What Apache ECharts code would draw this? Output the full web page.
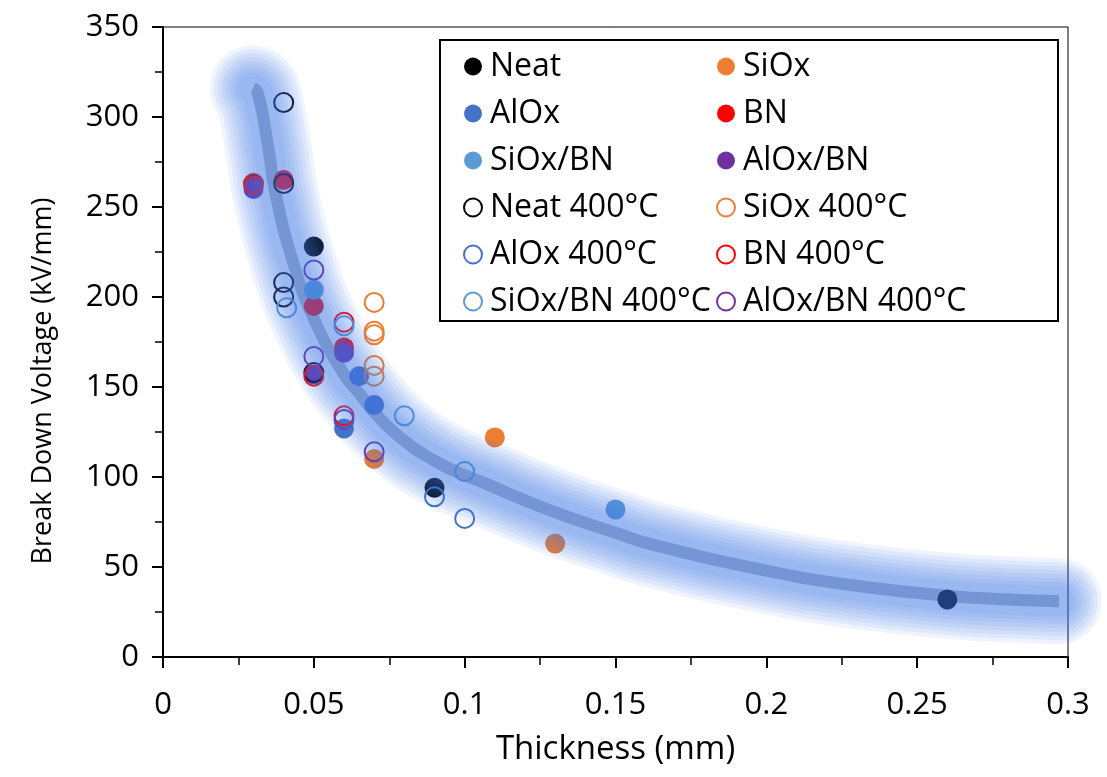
<!DOCTYPE html>
<html><head><meta charset="utf-8">
<script src="https://cdn.jsdelivr.net/npm/echarts@6/dist/echarts.min.js"></script>
<style>html,body{margin:0;padding:0;background:#fff}#c{width:1107px;height:777px}</style>
</head><body><div id="c"></div>
<script>
// ---- data (thickness mm, breakdown kV/mm) ----
const neat      = [[0.03,263],[0.05,228],[0.09,94],[0.26,32]];
const siox      = [[0.07,110],[0.11,122],[0.13,63]];
const alox      = [[0.065,156],[0.06,127],[0.07,140]];
const bn        = [[0.03,262],[0.04,265],[0.05,195],[0.06,172]];
const sioxbn    = [[0.05,204],[0.15,82]];
const aloxbn    = [[0.03,260],[0.06,169],[0.05,157]];
const neat400   = [[0.04,308],[0.04,263],[0.04,208],[0.04,200],[0.05,158]];
const siox400   = [[0.07,197],[0.07,181],[0.07,179],[0.07,162],[0.07,156]];
const alox400   = [[0.09,89],[0.1,77]];
const bn400     = [[0.03,263],[0.05,156],[0.06,186],[0.06,134]];
const sioxbn400 = [[0.041,194],[0.06,184],[0.08,134],[0.1,103]];
const aloxbn400 = [[0.05,215],[0.05,167],[0.06,132],[0.07,114]];
// trendline
const trendX = [0.0298,0.0315,0.035,0.0371,0.043,0.05,0.06,0.0653,0.07,0.0786,0.09,0.1,0.106,0.12,0.134,0.15,0.161,0.2,0.228,0.26,0.28,0.297];
const trendY = [316,313,282,259,220,188,157,146,136,122,109,101,97,87,78,69,63,48,40,34,32,31];
const xTickLabels = ['0','0.05','0.1','0.15','0.2','0.25','0.3'];

const seriesDefs = [
  ['Neat', neat, '#000000', true],
  ['SiOx', siox, '#ED7D31', true],
  ['AlOx', alox, '#4472C4', true],
  ['BN', bn, '#FF0000', true],
  ['SiOx/BN', sioxbn, '#5B9BD5', true],
  ['AlOx/BN', aloxbn, '#7030A0', true],
  ['Neat 400°C', neat400, '#000000', false],
  ['SiOx 400°C', siox400, '#ED7D31', false],
  ['AlOx 400°C', alox400, '#4472C4', false],
  ['BN 400°C', bn400, '#FF0000', false],
  ['SiOx/BN 400°C', sioxbn400, '#5B9BD5', false],
  ['AlOx/BN 400°C', aloxbn400, '#7030A0', false]
];
const FONT = '"Open Sans", "Liberation Sans", sans-serif';

const series = seriesDefs.map(([name, data, color, filled]) => ({
  name, type: 'scatter', data, z: 3,
  symbol: 'circle', symbolSize: filled ? 20 : 19,
  itemStyle: filled ? {color: color, opacity: 1} : {color: 'rgba(255,255,255,0)', borderColor: color, borderWidth: 2, opacity: 1},
  emphasis: {disabled: true}
}));
const trend = trendX.map((x, i) => [x, trendY[i]]);
series.push({
  type: 'line', data: trend, smooth: true, showSymbol: false, z: 2, silent: true, clip: false,
  lineStyle: {width: 12, color: '#b4b8c2', cap: 'butt'}
});
// soft glow: stacked translucent strokes
const glowWidths = [86, 78, 70, 62, 54, 46, 38, 30];
glowWidths.forEach((w) => series.push({
  type: 'line', data: trend, smooth: true, showSymbol: false, z: 4, silent: true, clip: false,
  lineStyle: {width: w, color: 'rgba(63,124,231,0.09)', cap: 'round', join: 'round'}
}));

const leftNames = ['Neat','AlOx','SiOx/BN','Neat 400°C','AlOx 400°C','SiOx/BN 400°C'];
const rightNames = ['SiOx','BN','AlOx/BN','SiOx 400°C','BN 400°C','AlOx/BN 400°C'];
const legendBase = {
  orient: 'vertical', top: 43, itemGap: 10, itemWidth: 24, itemHeight: 18, z: 10,
  icon: 'circle', selectedMode: false,
  textStyle: {fontFamily: FONT, fontSize: 32, color: '#000', lineHeight: 37}
};

const chart = echarts.init(document.getElementById('c'));
chart.setOption({
  animation: false,
  backgroundColor: '#fff',
  grid: {left: 163, right: 39, top: 27, bottom: 120, show: true, borderColor: '#000', borderWidth: 1},
  graphic: [{type: 'rect', z: 9, shape: {x: 440, y: 40, width: 618, height: 281},
    style: {fill: '#fff', stroke: '#000', lineWidth: 2}}],
  legend: [
    Object.assign({}, legendBase, {left: 458, data: leftNames}),
    Object.assign({}, legendBase, {left: 711, data: rightNames})
  ],
  xAxis: {
    type: 'value', min: 0, max: 0.3, interval: 0.05,
    name: 'Thickness (mm)', nameLocation: 'middle', nameGap: 76,
    nameTextStyle: {fontFamily: FONT, fontSize: 33, color: '#000'},
    axisLine: {show: true, lineStyle: {color: '#000', width: 2}},
    axisTick: {show: true, length: 11, lineStyle: {color: '#000', width: 2}},
    minorTick: {show: true, splitNumber: 2, length: 8, lineStyle: {color: '#000', width: 1.5}},
    splitLine: {show: false},
    axisLabel: {fontFamily: FONT, fontSize: 31, color: '#000', margin: 33,
      formatter: (v) => xTickLabels[Math.round(v / 0.05)] ?? String(v)}
  },
  yAxis: {
    type: 'value', min: 0, max: 350, interval: 50,
    name: 'Break Down Voltage (kV/mm)', nameLocation: 'middle', nameGap: 106,
    nameTextStyle: {fontFamily: FONT, fontSize: 27, color: '#000', padding: [0, 78, 0, 0]},
    axisLine: {show: true, lineStyle: {color: '#000', width: 2}},
    axisTick: {show: true, length: 11, lineStyle: {color: '#000', width: 2}},
    minorTick: {show: true, splitNumber: 2, length: 8, lineStyle: {color: '#000', width: 1.5}},
    splitLine: {show: false},
    axisLabel: {fontFamily: FONT, fontSize: 31, color: '#000', margin: 24}
  },
  series
});
</script></body></html>
